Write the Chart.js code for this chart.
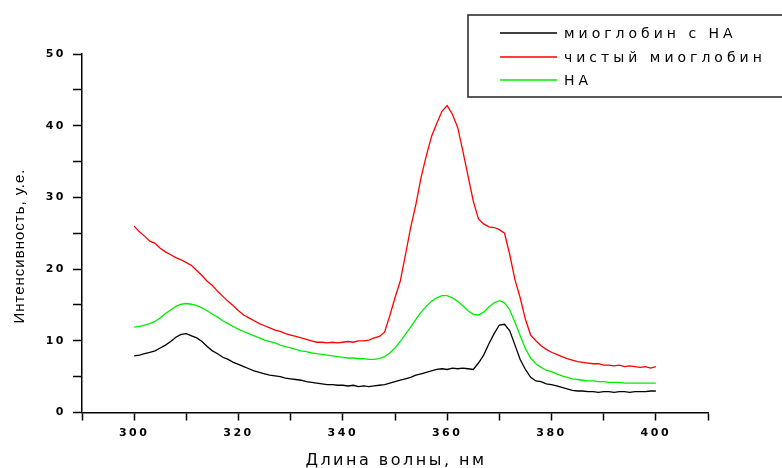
<!DOCTYPE html>
<html>
<head>
<meta charset="utf-8">
<script src="https://cdn.jsdelivr.net/npm/chart.js@4.4.1/dist/chart.umd.min.js"></script>
<style>
  body { margin: 0; background: #fff; }
  #wrap { width: 782px; height: 468px; }
</style>
</head>
<body>
<div id="wrap"><canvas id="grafico"></canvas></div>
<script>
// длины волн, нм (шаг 1 нм)
const dlina = Array.from({ length: 101 }, (_, i) => 300 + i)

// миоглобин с НА
const mioNA = [
  7.9, 8.0, 8.2, 8.4, 8.6, 9.0, 9.4, 9.9, 10.5, 10.9,
  11.0, 10.7, 10.4, 9.9, 9.2, 8.6, 8.2, 7.7, 7.4, 7.0,
  6.7, 6.4, 6.1, 5.8, 5.6, 5.4, 5.2, 5.1, 5.0, 4.8,
  4.7, 4.6, 4.5, 4.3, 4.2, 4.1, 4.0, 3.9, 3.9, 3.8,
  3.8, 3.7, 3.8, 3.6, 3.7, 3.6, 3.7, 3.8, 3.9, 4.1,
  4.3, 4.5, 4.7, 4.9, 5.2, 5.4, 5.6, 5.8, 6.0, 6.1,
  6.0, 6.2, 6.1, 6.2, 6.1, 6.0, 6.9, 8.0, 9.6, 11.0,
  12.2, 12.3, 11.4, 9.4, 7.4, 6.0, 4.9, 4.4, 4.3, 4.0,
  3.9, 3.7, 3.5, 3.3, 3.1, 3.0, 3.0, 2.9, 2.9, 2.8,
  2.9, 2.9, 2.8, 2.9, 2.9, 2.8, 2.9, 2.9, 2.9, 3.0,
  3.0
]

// чистый миоглобин
const mioChist = [
  26.0, 25.2, 24.6, 23.9, 23.6, 22.9, 22.4, 22.0, 21.6, 21.3,
  20.9, 20.5, 19.8, 19.1, 18.3, 17.7, 16.9, 16.2, 15.5, 14.9,
  14.2, 13.6, 13.2, 12.8, 12.4, 12.1, 11.8, 11.5, 11.3, 11.0,
  10.8, 10.6, 10.4, 10.2, 10.0, 9.8, 9.8, 9.7, 9.8, 9.7,
  9.8, 9.9, 9.8, 10.0, 10.0, 10.1, 10.4, 10.6, 11.2, 13.5,
  16.0, 18.3, 22.0, 25.8, 29.0, 32.8, 35.8, 38.5, 40.3, 42.0,
  42.8, 41.6, 39.8, 36.5, 33.0, 29.5, 27.0, 26.3, 25.9, 25.8,
  25.5, 25.0, 22.0, 18.5, 16.0, 13.0, 10.8, 10.0, 9.3, 8.8,
  8.4, 8.1, 7.8, 7.5, 7.3, 7.1, 7.0, 6.9, 6.8, 6.8,
  6.6, 6.6, 6.5, 6.6, 6.4, 6.5, 6.4, 6.3, 6.4, 6.2,
  6.4
]

// НА
const na = [
  11.9, 12.0, 12.2, 12.4, 12.7, 13.2, 13.8, 14.3, 14.8, 15.1,
  15.2, 15.1, 14.9, 14.6, 14.2, 13.7, 13.3, 12.8, 12.4, 12.0,
  11.6, 11.3, 11.0, 10.7, 10.4, 10.1, 9.9, 9.7, 9.4, 9.2,
  9.0, 8.8, 8.6, 8.5, 8.3, 8.2, 8.1, 8.0, 7.9, 7.8,
  7.7, 7.6, 7.6, 7.5, 7.5, 7.4, 7.4, 7.5, 7.8, 8.3,
  9.0, 9.9, 10.9, 11.9, 13.0, 14.0, 14.8, 15.5, 16.0, 16.3,
  16.3, 16.0, 15.5, 14.9, 14.2, 13.7, 13.6, 14.0, 14.7, 15.3,
  15.6, 15.3, 14.3, 12.6, 10.7, 8.9, 7.6, 6.8, 6.3, 5.9,
  5.7, 5.4, 5.1, 4.9, 4.7, 4.6, 4.5, 4.4, 4.4, 4.3,
  4.3, 4.2, 4.2, 4.2, 4.1, 4.1, 4.1, 4.1, 4.1, 4.1,
  4.1
]

const tituloX = 'Длина волны, нм'
const tituloY = 'Интенсивность, у.е.'

function pontos(valores) {
  return dlina.map((x, i) => ({ x: x, y: valores[i] }))
}

// разрядка для подписей делений
const razryadka = {
  id: 'razryadka',
  beforeDraw(chart) {
    chart.ctx.letterSpacing = '2.5px'
  }
}

// подписи осей и легенда в рамке
const podpisi = {
  id: 'podpisi',
  afterDraw(chart) {
    const ctx = chart.ctx
    const area = chart.chartArea
    ctx.save()
    ctx.fillStyle = '#000'
    ctx.textAlign = 'center'
    ctx.textBaseline = 'middle'

    ctx.font = '16px "DejaVu Sans", sans-serif'
    ctx.letterSpacing = '2.5px'
    ctx.fillText(tituloX, (area.left + area.right) / 2 + 1, 461)

    ctx.translate(20, 246)
    ctx.rotate(-Math.PI / 2)
    ctx.font = '15px "Liberation Sans", Arial, sans-serif'
    ctx.letterSpacing = '1px'
    ctx.fillText(tituloY, 0, 0)
    ctx.setTransform(1, 0, 0, 1, 0, 0)

    ctx.strokeStyle = '#222'
    ctx.lineWidth = 1.5
    ctx.strokeRect(468, 15, 330, 82)
    ctx.textAlign = 'left'
    ctx.font = '14px "DejaVu Sans", sans-serif'
    ctx.letterSpacing = '4px'
    const ys = [33, 57, 80]
    chart.data.datasets.forEach((ds, i) => {
      ctx.strokeStyle = ds.borderColor
      ctx.lineWidth = 1.3
      ctx.beginPath()
      ctx.moveTo(500, ys[i])
      ctx.lineTo(557, ys[i])
      ctx.stroke()
      ctx.fillText(ds.label, 564, ys[i] + 1)
    })
    ctx.restore()
  }
}

const fonteTicks = { family: '"DejaVu Sans", sans-serif', size: 11, weight: 'bold' }

new Chart(document.getElementById('grafico'), {
  type: 'line',
  data: {
    datasets: [
      { label: 'миоглобин с НА', data: pontos(mioNA), borderColor: '#000000' },
      { label: 'чистый миоглобин', data: pontos(mioChist), borderColor: '#ff0000' },
      { label: 'НА', data: pontos(na), borderColor: '#00ee00' }
    ]
  },
  options: {
    responsive: true,
    maintainAspectRatio: false,
    animation: false,
    layout: { padding: { top: 54, right: 74, left: 0, bottom: 0 } },
    elements: {
      point: { radius: 0 },
      line: { borderWidth: 1.3, tension: 0 }
    },
    plugins: {
      legend: { display: false },
      tooltip: { enabled: false }
    },
    scales: {
      x: {
        type: 'linear',
        min: 290,
        max: 410,
        afterFit: s => { s.height = 55.5 },
        border: { display: true, color: '#000', width: 1.5 },
        grid: { drawOnChartArea: false, drawTicks: true, tickLength: 8, tickColor: '#000', tickWidth: 1.5 },
        ticks: {
          stepSize: 10,
          color: '#000',
          font: fonteTicks,
          padding: 6,
          maxRotation: 0,
          callback: v => (v % 20 === 0 && v >= 300 && v <= 400) ? v : ''
        }
      },
      y: {
        min: 0,
        max: 50,
        afterFit: s => { s.width = 82 },
        border: { display: true, color: '#000', width: 1.5 },
        grid: { drawOnChartArea: false, drawTicks: true, tickLength: 9, tickColor: '#000', tickWidth: 1.5 },
        ticks: {
          stepSize: 5,
          color: '#000',
          font: fonteTicks,
          padding: 7,
          callback: v => v % 10 === 0 ? v : ''
        }
      }
    }
  },
  plugins: [razryadka, podpisi]
})
</script>
</body>
</html>
